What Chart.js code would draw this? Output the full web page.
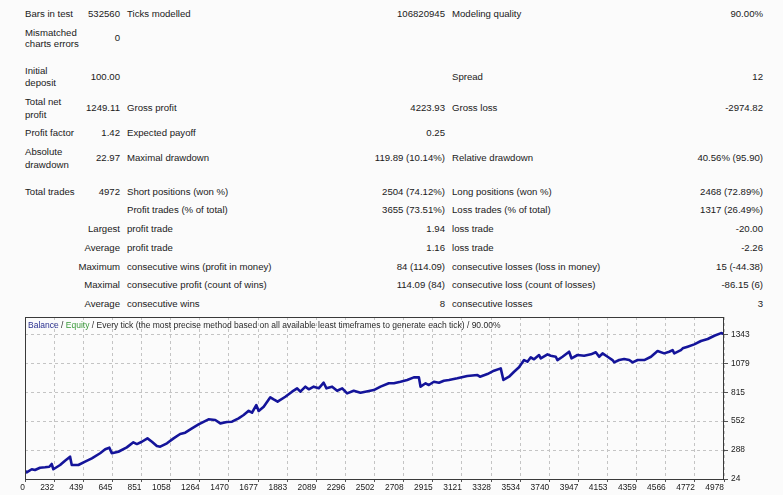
<!DOCTYPE html>
<html>
<head>
<meta charset="utf-8">
<script src="https://cdn.jsdelivr.net/npm/chart.js@4.4.1/dist/chart.umd.min.js"></script>
<style>
  html, body { margin: 0; padding: 0; }
  body { width: 783px; height: 495px; background: #fbfbfb; position: relative; overflow: hidden;
         font-family: "Liberation Sans", Arial, sans-serif; color: #1a1a1a; }
  .t { position: absolute; font-size: 9.6px; line-height: 12px; white-space: nowrap; }
  #chartBox { position: absolute; left: 0; top: 300px; width: 783px; height: 195px; }
  #legend { position: absolute; left: 28px; top: 319px; font-size: 8.5px; line-height: 12px; white-space: nowrap; color: #2a2a2a; }
  #legend .bal { color: #2b3190; }
  #legend .eq { color: #3a9a3a; }
</style>
</head>
<body>
<div id="report"></div>
<div id="chartBox"><canvas id="balanceChart" width="783" height="195"></canvas></div>
<div id="legend"><span class="bal">Balance</span> / <span class="eq">Equity</span> / Every tick (the most precise method based on all available least timeframes to generate each tick) / 90.00%</div>
<script>
// Balance curve (trade number, balance)
const trades = [0, 12, 48, 71, 107, 143, 173, 190, 202, 250, 285, 321, 333, 380, 428, 476, 535, 571, 601, 618,
  665, 725, 772, 797, 832, 872, 904, 939, 963, 1011, 1058, 1105, 1141, 1189, 1236, 1307, 1355, 1391, 1438, 1474,
  1521, 1557, 1593, 1617, 1647, 1664, 1700, 1747, 1771, 1799, 1854, 1902, 1938, 1961, 1997, 2021, 2056, 2092, 2127, 2147,
  2187, 2223, 2259, 2294, 2341, 2389, 2484, 2532, 2591, 2627, 2674, 2722, 2769, 2805, 2817, 2853, 2876, 2912, 2948, 2983,
  3019, 3079, 3150, 3222, 3240, 3293, 3340, 3388, 3407, 3447, 3483, 3518, 3554, 3578, 3602, 3625, 3661, 3673, 3721, 3744,
  3780, 3792, 3828, 3875, 3892, 3935, 3982, 4030, 4065, 4089, 4113, 4149, 4184, 4196, 4231, 4267, 4303, 4327, 4363, 4410,
  4458, 4505, 4552, 4588, 4612, 4624, 4671, 4684, 4719, 4766, 4814, 4862, 4909, 4957, 4978];
const balance = [100, 85, 113, 106, 127, 131, 136, 161, 113, 152, 191, 228, 152, 152, 182, 213, 259, 295, 310, 259,
  273, 313, 359, 343, 364, 395, 364, 325, 319, 350, 395, 435, 447, 487, 523, 569, 563, 532, 544, 547,
  578, 608, 647, 629, 699, 645, 684, 770, 751, 730, 775, 821, 852, 821, 867, 843, 867, 852, 903, 852,
  867, 830, 852, 806, 830, 812, 836, 867, 898, 898, 912, 928, 952, 952, 867, 898, 882, 912, 903, 921,
  928, 943, 964, 973, 958, 982, 1013, 1034, 928, 958, 1003, 1044, 1110, 1095, 1135, 1117, 1156, 1126, 1162, 1149,
  1140, 1110, 1140, 1186, 1126, 1156, 1149, 1162, 1181, 1140, 1171, 1140, 1110, 1089, 1110, 1119, 1110, 1089, 1110, 1110,
  1140, 1192, 1171, 1186, 1201, 1171, 1201, 1217, 1232, 1253, 1284, 1302, 1332, 1356, 1349];

// Axis labels
const xLabels = ['0', '232', '439', '645', '851', '1058', '1264', '1470', '1677', '1883', '2089', '2296', '2502',
  '2708', '2915', '3121', '3328', '3534', '3740', '3947', '4153', '4359', '4566', '4772', '4978'];
const yTicks = [24, 288, 552, 815, 1079, 1343];
const xMax = 4978;
const yMin = 24;
const yMax = 1503;

// Report table text: [y, [text, x, align]]
const rows = [
  [13.5, [['Bars in test', 25, 'l'], ['532560', 120, 'r'], ['Ticks modelled', 127, 'l'], ['106820945', 445, 'r'], ['Modeling quality', 452, 'l'], ['90.00%', 763, 'r']]],
  [32.7, [['Mismatched', 25, 'l']]],
  [44.3, [['charts errors', 25, 'l']]],
  [38, [['0', 120, 'r']]],
  [71, [['Initial', 25, 'l']]],
  [83.3, [['deposit', 25, 'l']]],
  [77.3, [['100.00', 120, 'r'], ['Spread', 452, 'l'], ['12', 763, 'r']]],
  [102.3, [['Total net', 25, 'l']]],
  [115, [['profit', 25, 'l']]],
  [108.3, [['1249.11', 120, 'r'], ['Gross profit', 127, 'l'], ['4223.93', 445, 'r'], ['Gross loss', 452, 'l'], ['-2974.82', 763, 'r']]],
  [133.3, [['Profit factor', 25, 'l'], ['1.42', 120, 'r'], ['Expected payoff', 127, 'l'], ['0.25', 445, 'r']]],
  [152.3, [['Absolute', 25, 'l']]],
  [164.5, [['drawdown', 25, 'l']]],
  [158.3, [['22.97', 120, 'r'], ['Maximal drawdown', 127, 'l'], ['119.89 (10.14%)', 445, 'r'], ['Relative drawdown', 452, 'l'], ['40.56% (95.90)', 763, 'r']]],
  [191.7, [['Total trades', 25, 'l'], ['4972', 120, 'r'], ['Short positions (won %)', 127, 'l'], ['2504 (74.12%)', 445, 'r'], ['Long positions (won %)', 452, 'l'], ['2468 (72.89%)', 763, 'r']]],
  [210, [['Profit trades (% of total)', 127, 'l'], ['3655 (73.51%)', 445, 'r'], ['Loss trades (% of total)', 452, 'l'], ['1317 (26.49%)', 763, 'r']]],
  [229, [['Largest', 120, 'r'], ['profit trade', 127, 'l'], ['1.94', 445, 'r'], ['loss trade', 452, 'l'], ['-20.00', 763, 'r']]],
  [248, [['Average', 120, 'r'], ['profit trade', 127, 'l'], ['1.16', 445, 'r'], ['loss trade', 452, 'l'], ['-2.26', 763, 'r']]],
  [266.7, [['Maximum', 120, 'r'], ['consecutive wins (profit in money)', 127, 'l'], ['84 (114.09)', 445, 'r'], ['consecutive losses (loss in money)', 452, 'l'], ['15 (-44.38)', 763, 'r']]],
  [285, [['Maximal', 120, 'r'], ['consecutive profit (count of wins)', 127, 'l'], ['114.09 (84)', 445, 'r'], ['consecutive loss (count of losses)', 452, 'l'], ['-86.15 (6)', 763, 'r']]],
  [304, [['Average', 120, 'r'], ['consecutive wins', 127, 'l'], ['8', 445, 'r'], ['consecutive losses', 452, 'l'], ['3', 763, 'r']]]
];

// Build the report text
const report = document.getElementById('report');
rows.forEach(([y, cells]) => {
  cells.forEach(([text, x, align]) => {
    const span = document.createElement('div');
    span.className = 't';
    span.textContent = text;
    span.style.top = (y - 6) + 'px';
    if (align === 'r') {
      span.style.right = (783 - x) + 'px';
    } else {
      span.style.left = x + 'px';
    }
    report.appendChild(span);
  });
});

// Frame round the plot area
const framePlugin = {
  id: 'frame',
  afterDraw(chart) {
    const { ctx, chartArea: a } = chart;
    ctx.save();
    ctx.strokeStyle = '#3a3a3a';
    ctx.lineWidth = 1;
    ctx.strokeRect(a.left + 0.5, a.top + 0.5, a.right - a.left - 1, a.bottom - a.top);
    ctx.restore();
  }
};

const ctx = document.getElementById('balanceChart').getContext('2d');
const balanceChart = new Chart(ctx, {
  type: 'line',
  data: {
    datasets: [{
      label: 'Balance',
      data: trades.map((t, i) => ({ x: t, y: balance[i] })),
      borderColor: '#14149a',
      borderWidth: 2.6,
      borderJoinStyle: 'round',
      pointRadius: 0,
      tension: 0,
      fill: false
    }]
  },
  options: {
    responsive: false,
    animation: false,
    devicePixelRatio: 1,
    layout: { padding: { left: 25, top: 17, right: 0, bottom: 0 } },
    plugins: { legend: { display: false }, tooltip: { enabled: false } },
    scales: {
      x: {
        type: 'linear',
        min: 0,
        max: xMax,
        afterBuildTicks: (scale) => {
          scale.ticks = xLabels.map((l, i) => ({ value: i * xMax / (xLabels.length - 1) }));
        },
        afterFit: (scale) => { scale.height = 16; },
        grid: { color: '#c4c4c4', tickColor: '#555', tickLength: 3, tickBorderDash: [] },
        border: { display: false, dash: [3, 3] },
        ticks: {
          autoSkip: false,
          maxRotation: 0,
          align: 'end',
          padding: 1,
          color: '#1a1a1a',
          font: { family: 'Liberation Sans', size: 8.4 },
          callback: (v, i) => xLabels[i]
        }
      },
      y: {
        position: 'right',
        min: yMin,
        max: yMax,
        afterBuildTicks: (scale) => {
          scale.ticks = yTicks.map(v => ({ value: v }));
        },
        afterFit: (scale) => { scale.width = 59; },
        grid: { color: '#c4c4c4', tickColor: '#555', tickLength: 4, tickBorderDash: [] },
        border: { display: false, dash: [3, 3] },
        ticks: {
          padding: 3,
          color: '#1a1a1a',
          font: { family: 'Liberation Sans', size: 8.4 },
          callback: (v) => String(v)
        }
      }
    }
  },
  plugins: [framePlugin]
});
</script>
</body>
</html>
